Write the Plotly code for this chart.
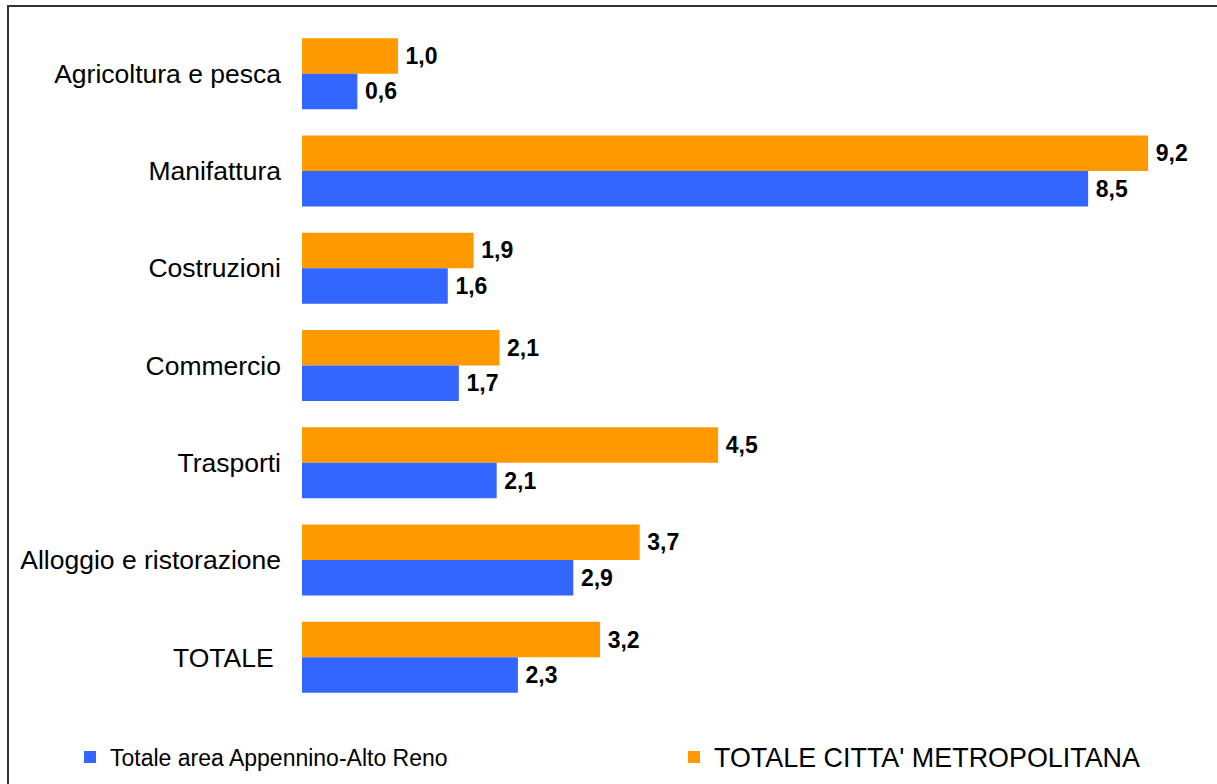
import plotly.graph_objects as go

categories = ["Agricoltura e pesca", "Manifattura", "Costruzioni", "Commercio",
              "Trasporti", "Alloggio e ristorazione", "TOTALE\u00a0"]
area_values = [0.60, 8.52, 1.58, 1.70, 2.11, 2.94, 2.34]
metro_values = [1.04, 9.17, 1.86, 2.14, 4.51, 3.66, 3.23]
series_names = ["Totale area Appennino-Alto Reno", "TOTALE CITTA' METROPOLITANA"]

BLUE = "#3366FF"
ORANGE = "#FF9900"
FONT = "Liberation Sans, Arial, sans-serif"
LABEL_FONT = dict(family=FONT, size=23, color="black", weight="bold")

fig = go.Figure()
fig.add_trace(go.Bar(
    y=categories, x=metro_values, orientation="h", name=series_names[1],
    marker=dict(color=ORANGE, line=dict(width=0)),
    texttemplate="\u2009%{x:.1f}", textposition="outside", cliponaxis=False,
    textfont=LABEL_FONT, legend="legend2", hoverinfo="skip",
))
fig.add_trace(go.Bar(
    y=categories, x=area_values, orientation="h", name=series_names[0],
    marker=dict(color=BLUE, line=dict(width=0)),
    texttemplate="\u2009%{x:.1f}", textposition="outside", cliponaxis=False,
    textfont=LABEL_FONT, legend="legend", hoverinfo="skip",
))

W, H = 1217, 784
ml, mr, mt, mb = 302, 32, 25, 78
pw, ph = W - ml - mr, H - mt - mb
leg_y = 1 - 757 / H  # container fraction

fig.update_layout(
    width=W, height=H,
    margin=dict(l=ml, r=mr, t=mt, b=mb, autoexpand=False),
    paper_bgcolor="white", plot_bgcolor="white",
    barmode="group", bargap=0.27, bargroupgap=0,
    separators=",.",
    font=dict(family=FONT, size=26, color="black"),
    showlegend=True,
    legend=dict(
        orientation="h", xref="container", yref="container",
        x=70 / W, xanchor="left", y=leg_y, yanchor="middle",
        font=dict(family=FONT, size=23, color="black"),
        bgcolor="rgba(0,0,0,0)",
    ),
    legend2=dict(
        orientation="h", xref="container", yref="container",
        x=674 / W, xanchor="left", y=leg_y, yanchor="middle",
        font=dict(family=FONT, size=26.9, color="black"),
        bgcolor="rgba(0,0,0,0)",
    ),
    xaxis=dict(range=[0, 9.57], visible=False, showgrid=False, zeroline=False),
    yaxis=dict(autorange="reversed", showgrid=False, zeroline=False, showline=False,
               ticks="", ticklabelstandoff=20, automargin=False,
               tickfont=dict(family=FONT, size=26.5, color="black")),
    shapes=[dict(type="rect", xref="paper", yref="paper",
                 x0=(8 - ml) / pw, x1=1.2,
                 y0=-0.3, y1=1 + (mt - 6) / ph,
                 line=dict(color="#333333", width=2), layer="below")],
)

fig.write_html("out.html", config={"displayModeBar": False},
               post_script="document.body.style.margin='0';document.body.style.overflow='hidden';")
